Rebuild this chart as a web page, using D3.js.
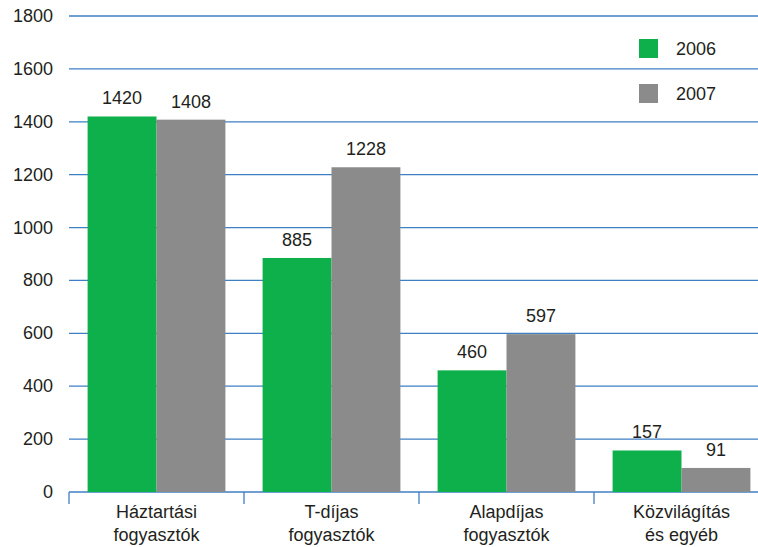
<!DOCTYPE html>
<html>
<head>
<meta charset="utf-8">
<script src="https://cdn.jsdelivr.net/npm/d3@7"></script>
<style>
  body { margin: 0; background: #fff; }
  text { font-family: "Liberation Sans", Arial, sans-serif; fill: #231f20; }
</style>
</head>
<body>
<svg id="chart" width="758" height="547"></svg>
<script>
const categories = [['Háztartási', 'fogyasztók'], ['T-díjas', 'fogyasztók'], ['Alapdíjas', 'fogyasztók'], ['Közvilágítás', 'és egyéb']];
const years = ['2006', '2007'];
const values2006 = [1420, 885, 460, 157];
const values2007 = [1408, 1228, 597, 91];
const yTicks = [0, 200, 400, 600, 800, 1000, 1200, 1400, 1600, 1800];

const colors = { '2006': '#0db04b', '2007': '#8a8b8a' };
const svg = d3.select('#chart');

const left = 69;
const x = d3.scaleBand()
  .domain(d3.range(categories.length))
  .range([left, left + 175 * 4])
  .paddingInner(0)
  .paddingOuter(0);
const x1 = d3.scaleBand()
  .domain(years)
  .range([0, x.bandwidth()])
  .paddingOuter(0.27)
  .paddingInner(0);
const y = d3.scaleLinear().domain([0, 1800]).range([492, 16]);

// grid lines
svg.append('g')
  .selectAll('line')
  .data(yTicks)
  .enter()
  .append('line')
  .attr('x1', left)
  .attr('x2', 758)
  .attr('y1', d => y(d))
  .attr('y2', d => y(d))
  .attr('stroke', '#3f7fc4')
  .attr('stroke-width', 1.3);

// y labels
svg.append('g')
  .selectAll('text')
  .data(yTicks)
  .enter()
  .append('text')
  .attr('x', 53)
  .attr('y', d => y(d) + 6)
  .attr('text-anchor', 'end')
  .style('font-size', '18px')
  .text(d => d);

// category ticks
svg.append('g')
  .selectAll('line')
  .data(d3.range(categories.length))
  .enter()
  .append('line')
  .attr('x1', d => x(d))
  .attr('x2', d => x(d))
  .attr('y1', y(0))
  .attr('y2', 504)
  .attr('stroke', '#3f7fc4')
  .attr('stroke-width', 1.3);

const rows = [];
categories.forEach((c, i) => {
  rows.push({ i, year: '2006', v: values2006[i] });
  rows.push({ i, year: '2007', v: values2007[i] });
});

svg.append('g')
  .selectAll('rect')
  .data(rows)
  .enter()
  .append('rect')
  .attr('x', d => x(d.i) + x1(d.year))
  .attr('y', d => y(d.v))
  .attr('width', x1.bandwidth())
  .attr('height', d => y(0) - y(d.v))
  .style('fill', d => colors[d.year]);

svg.append('g')
  .selectAll('text')
  .data(rows)
  .enter()
  .append('text')
  .attr('x', d => x(d.i) + x1(d.year) + x1.bandwidth() / 2)
  .attr('y', d => y(d.v) - 12)
  .attr('text-anchor', 'middle')
  .style('font-size', '18px')
  .text(d => d.v);

// category labels
const cat = svg.append('g')
  .selectAll('text')
  .data(categories)
  .enter()
  .append('text')
  .attr('text-anchor', 'middle')
  .style('font-size', '18px');
cat.append('tspan')
  .attr('x', (d, i) => x(i) + x.bandwidth() / 2)
  .attr('y', 518)
  .text(d => d[0]);
cat.append('tspan')
  .attr('x', (d, i) => x(i) + x.bandwidth() / 2)
  .attr('y', 541)
  .text(d => d[1]);

// legend
const legend = svg.append('g')
  .selectAll('g')
  .data(years)
  .enter()
  .append('g')
  .attr('transform', (d, i) => `translate(639, ${39 + i * 45})`);
legend.append('rect')
  .attr('width', 19)
  .attr('height', 19)
  .style('fill', d => colors[d]);
legend.append('text')
  .attr('x', 37)
  .attr('y', 16)
  .style('font-size', '18px')
  .text(d => d);
</script>
</body>
</html>
